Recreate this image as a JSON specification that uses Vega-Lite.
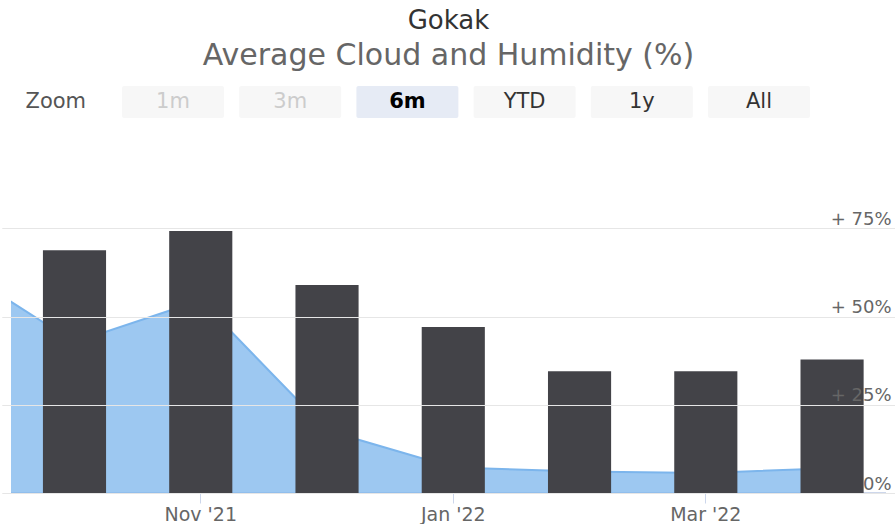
{
  "$schema": "https://vega.github.io/schema/vega-lite/v6.json",
  "background": "white",
  "padding": {"left": 10, "top": 8, "right": 5, "bottom": 0},
  "title": {
    "text": "Gokak",
    "subtitle": "Average Cloud and Humidity (%)",
    "anchor": "middle",
    "frame": "group",
    "font": "DejaVu Sans",
    "fontSize": 26,
    "fontWeight": "normal",
    "color": "#333333",
    "subtitleFont": "DejaVu Sans",
    "subtitleFontSize": 30,
    "subtitleColor": "#666666",
    "subtitlePadding": 7,
    "offset": 15
  },
  "config": {"view": {"stroke": null}, "font": "DejaVu Sans"},
  "datasets": {
    "buttons": [
      {"label": "Zoom", "state": "label"},
      {"label": "1m", "state": "disabled"},
      {"label": "3m", "state": "disabled"},
      {"label": "6m", "state": "selected"},
      {"label": "YTD", "state": "normal"},
      {"label": "1y", "state": "normal"},
      {"label": "All", "state": "normal"}
    ],
    "weather": [
      {"month": "Sep '21", "cloud": 65.5, "humidity": null},
      {"month": "Oct '21", "cloud": 42.7, "humidity": 68.8},
      {"month": "Nov '21", "cloud": 54.6, "humidity": 74.2},
      {"month": "Dec '21", "cloud": 17.7, "humidity": 58.9},
      {"month": "Jan '22", "cloud": 7.2, "humidity": 47.0},
      {"month": "Feb '22", "cloud": 6.1, "humidity": 34.5},
      {"month": "Mar '22", "cloud": 5.7, "humidity": 34.5},
      {"month": "Apr '22", "cloud": 7.0, "humidity": 37.8}
    ]
  },
  "vconcat": [
    {
      "width": 875,
      "height": 32,
      "data": {"name": "buttons"},
      "encoding": {
        "x": {
          "field": "label",
          "type": "nominal",
          "sort": null,
          "scale": {
            "domain": ["Zoom", "1m", "3m", "6m", "YTD", "1y", "All"],
            "range": [-13.8, 806.6],
            "paddingInner": 0.13,
            "paddingOuter": 0.065
          },
          "axis": null
        }
      },
      "layer": [
        {
          "transform": [{"filter": "datum.state != 'label'"}],
          "mark": {"type": "rect", "cornerRadius": 2},
          "encoding": {
            "fill": {
              "condition": {"test": "datum.state == 'selected'", "value": "#e6ebf5"},
              "value": "#f7f7f7"
            }
          }
        },
        {
          "transform": [{"filter": "datum.state != 'selected'"}],
          "mark": {"type": "text", "fontSize": 21, "baseline": "middle"},
          "encoding": {
            "text": {"field": "label"},
            "color": {
              "condition": [
                {"test": "datum.state == 'disabled'", "value": "#cccccc"},
                {"test": "datum.state == 'label'", "value": "#555555"}
              ],
              "value": "#333333"
            }
          }
        },
        {
          "transform": [{"filter": "datum.state == 'selected'"}],
          "mark": {"type": "text", "fontSize": 21, "baseline": "middle", "fontWeight": "bold", "color": "#000000"},
          "encoding": {
            "text": {"field": "label"}
          }
        }
      ]
    },
    {
      "width": 875,
      "height": 353,
      "data": {"name": "weather"},
      "encoding": {
        "x": {
          "field": "month",
          "type": "nominal",
          "sort": null,
          "scale": {
            "domain": ["Sep '21", "Oct '21", "Nov '21", "Dec '21", "Jan '22", "Feb '22", "Mar '22", "Apr '22"],
            "range": [-125.9, 884.2],
            "paddingInner": 0.5,
            "paddingOuter": 0.25
          },
          "axis": {
            "values": ["Nov '21", "Jan '22", "Mar '22"],
            "title": null,
            "grid": false,
            "domain": false,
            "tickSize": 10,
            "tickColor": "#ccd6eb",
            "labelColor": "#666666",
            "labelFontSize": 19,
            "labelPadding": 2,
            "labelAngle": 0
          }
        }
      },
      "layer": [
        {
          "mark": {"type": "rule", "color": "#ccd6eb", "strokeWidth": 1},
          "encoding": {"x": null, "y": {"datum": 0, "type": "quantitative"}}
        },
        {
          "mark": {
            "type": "area",
            "clip": true,
            "color": "#7cb5ec",
            "fillOpacity": 0.75,
            "line": {"color": "#7cb5ec", "strokeWidth": 2, "clip": true}
          },
          "encoding": {
            "y": {
              "field": "cloud",
              "type": "quantitative",
              "scale": {"domain": [0, 100]},
              "axis": {
                "orient": "right",
                "values": [0, 25, 50, 75],
                "labelExpr": "datum.value == 0 ? '0%' : '+ ' + datum.value + '%'",
                "title": null,
                "grid": true,
                "gridColor": "#e6e6e6",
                "domain": false,
                "ticks": false,
                "zindex": 1,
                "labelAlign": "right",
                "labelPadding": 5,
                "labelBaseline": "alphabetic",
                "labelOffset": -4,
                "labelFontSize": 18,
                "labelColor": "#666666"
              }
            }
          }
        },
        {
          "mark": {"type": "bar", "color": "#434348", "clip": true},
          "encoding": {
            "y": {"field": "humidity", "type": "quantitative"}
          }
        }
      ]
    }
  ],
  "spacing": 22
}
